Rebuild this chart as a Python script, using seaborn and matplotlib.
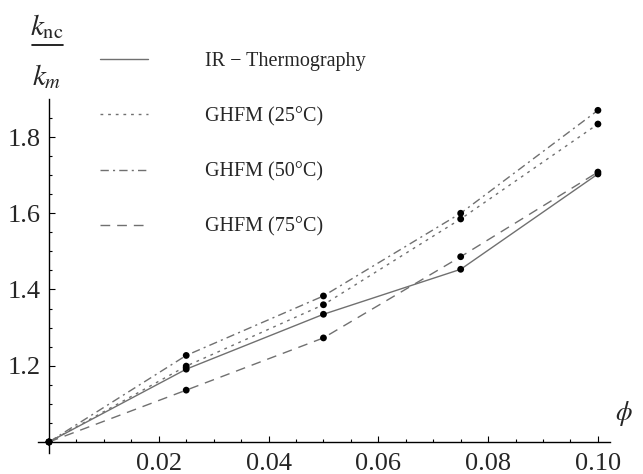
import pandas as pd
import seaborn as sns
import matplotlib.pyplot as plt
from matplotlib.lines import Line2D

# values
phi = [0.0, 0.025, 0.05, 0.075, 0.10]
ir_thermo = [1.0, 1.191, 1.335, 1.453, 1.703]
ghfm_25 = [1.0, 1.199, 1.360, 1.585, 1.834]
ghfm_50 = [1.0, 1.227, 1.383, 1.600, 1.870]
ghfm_75 = [1.0, 1.136, 1.273, 1.486, 1.708]
names = ['IR − Thermography', 'GHFM (25°C)', 'GHFM (50°C)', 'GHFM (75°C)']
x_ticks = [0.02, 0.04, 0.06, 0.08, 0.10]
y_ticks = [1.2, 1.4, 1.6, 1.8]

sns.set_style('white')
plt.rcParams['font.family'] = ['Liberation Serif', 'DejaVu Serif']
plt.rcParams['mathtext.fontset'] = 'stix'

df = pd.DataFrame({
    'phi': phi * 4,
    'k': ir_thermo + ghfm_25 + ghfm_50 + ghfm_75,
    'series': [n for n in names for _ in phi],
})

fig = plt.figure(figsize=(6.43, 4.74), dpi=100)
ax = fig.add_axes([38/643, 21/474, 572/643, 354/474])

dash_map = {names[0]: '', names[1]: (2, 3.5), names[2]: (6, 3, 1.5, 3), names[3]: (7, 5)}
sns.lineplot(data=df, x='phi', y='k', style='series', style_order=names,
             dashes=dash_map, color='#707070', lw=1, legend=False, ax=ax)
sns.scatterplot(data=df, x='phi', y='k', color='black', s=24, edgecolor='none',
                legend=False, ax=ax, zorder=5)

ax.set_xlim(-0.002, 0.1022)
ax.set_ylim(0.9711, 1.8997)
for s in ['top', 'right']:
    ax.spines[s].set_visible(False)
ax.spines['left'].set_position(('data', 0))
ax.spines['bottom'].set_position(('data', 1.0))
for s in ['left', 'bottom']:
    ax.spines[s].set_color('black')
    ax.spines[s].set_linewidth(1)

ax.set_xticks(x_ticks)
ax.set_xticklabels([f'{v:.2f}' for v in x_ticks])
ax.set_yticks(y_ticks)
ax.set_yticklabels([f'{v:.1f}' for v in y_ticks])
ax.set_xticks([i * 0.005 for i in range(1, 21)], minor=True)
ax.set_yticks([1 + i * 0.05 for i in range(1, 18)], minor=True)
ax.tick_params(which='both', direction='in', color='black', width=0.8,
               bottom=True, left=True, top=False, right=False)
ax.tick_params(which='major', length=4.5, labelsize=19)
ax.tick_params(which='minor', length=2.5)
ax.tick_params(axis='x', which='major', pad=8)
ax.tick_params(axis='y', which='major', pad=6)
ax.set_xlabel('')
ax.set_ylabel('')

fig.text(624/643, 1 - 413/474, r'$\phi$', fontsize=19, ha='center', va='center')
# y label drawn as a stacked fraction
fig.text(47/643, 1 - 27/474, r'$k_{\rm nc}$', fontsize=21, ha='center', va='center')
fig.text(47/643, 1 - 77/474, r'$k_m$', fontsize=21, ha='center', va='center')
fig.add_artist(Line2D([32/643, 63/643], [1 - 45/474, 1 - 45/474],
                      transform=fig.transFigure, color='black', lw=1.2))

ax.legend(handles=ax.lines[:4], labels=names, loc='upper left',
          bbox_to_anchor=(100/643, 1 - 52/474), bbox_transform=fig.transFigure,
          frameon=False, borderpad=0, borderaxespad=0, fontsize=14.5,
          handlelength=2.4, handletextpad=2.8, labelspacing=1.78)

fig.savefig('out.png', dpi=100)
